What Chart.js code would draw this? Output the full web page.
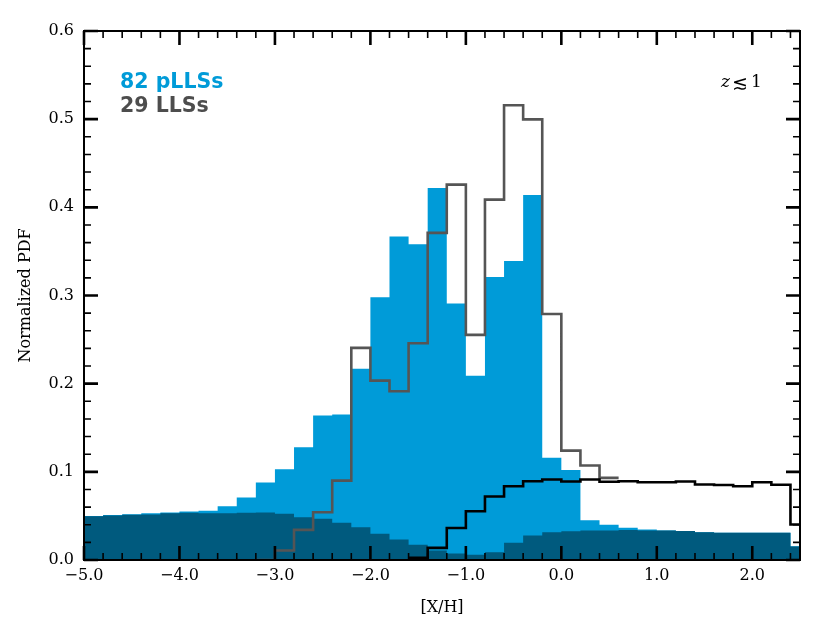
<!DOCTYPE html>
<html><head><meta charset="utf-8">
<script src="https://cdn.jsdelivr.net/npm/chart.js@4"></script>
<style>html,body{margin:0;padding:0;background:#fff}#wrap{width:830px;height:623px}</style>
</head><body><div id="wrap"><canvas id="c" width="830" height="623"></canvas></div>
<script>
// ---- data ----
const binWidth = 0.2;
const binLeftEdges = [-5.0,-4.8,-4.6,-4.4,-4.2,-4.0,-3.8,-3.6,-3.4,-3.2,-3.0,-2.8,-2.6,-2.4,-2.2,-2.0,-1.8,-1.6,-1.4,-1.2,-1.0,-0.8,-0.6,-0.4,-0.2,0.0,0.2,0.4,0.6,0.8,1.0,1.2,1.4,1.6,1.8,2.0,2.2,2.4];
// light blue filled histogram (82 pLLSs)
const pllsValues = [0.050,0.051,0.052,0.053,0.054,0.055,0.056,0.061,0.071,0.088,0.103,0.128,0.164,0.165,0.217,0.298,0.367,0.358,0.422,0.291,0.209,0.321,0.339,0.414,0.116,0.102,0.045,0.040,0.0365,0.0346,0.0335,0.0328,0.0316,0.031,0.031,0.031,0.031,0.0155];
// dark filled histogram
const darkValues = [0.0497,0.0505,0.0512,0.0516,0.053,0.0535,0.053,0.053,0.0535,0.054,0.0524,0.0485,0.0467,0.0422,0.0372,0.0297,0.0232,0.0172,0.0108,0.0075,0.006,0.0089,0.0195,0.0278,0.0315,0.0327,0.0334,0.0334,0.034,0.0334,0.0334,0.033,0.0315,0.0308,0.0308,0.0308,0.0308,0.0153];
// grey step histogram (29 LLSs), bins from -3.2 to 0.4
const llsEdges = [-3.2,-3.0,-2.8,-2.6,-2.4,-2.2,-2.0,-1.8,-1.6,-1.4,-1.2,-1.0,-0.8,-0.6,-0.4,-0.2,0.0,0.2,0.4];
const llsValues = [0.0,0.0108,0.0342,0.0542,0.090,0.2406,0.2035,0.1914,0.2458,0.371,0.4257,0.2553,0.4087,0.5157,0.4998,0.2791,0.1241,0.1071,0.0932];
// black step histogram, bins from -1.6 to 2.4
const blackEdges = [-1.6,-1.4,-1.2,-1.0,-0.8,-0.6,-0.4,-0.2,0.0,0.2,0.4,0.6,0.8,1.0,1.2,1.4,1.6,1.8,2.0,2.2,2.4];
const blackValues = [0.0025,0.0138,0.0363,0.0553,0.072,0.0837,0.0893,0.0913,0.089,0.0913,0.0888,0.0893,0.0882,0.0882,0.089,0.0856,0.085,0.0837,0.0882,0.0853,0.0403];
// ticks
const xTickValues = [-5,-4,-3,-2,-1,0,1,2];
const yTickValues = [0,0.1,0.2,0.3,0.4,0.5,0.6];

const BLUE = '#009bd8', DARK = '#005a7e', GREY = '#555555';

function stepPoints(edges, values, close){
  const pts = edges.map((e,i)=>({x:e, y:values[i]}));
  const lastX = edges[edges.length-1] + binWidth;
  pts.push({x:lastX, y:values[values.length-1]});
  if (close) pts.push({x:lastX, y:0});
  return pts;
}

const frameTicks = {
  id:'frameTicks',
  afterDraw(chart){
    const {ctx, chartArea:a, scales:{x,y}} = chart;
    ctx.save();
    ctx.strokeStyle = '#000';
    for (let k=-25;k<=12;k++){
      const v = k*0.2, major = (k%5===0);
      const px = x.getPixelForValue(v);
      if (px < a.left-0.5 || px > a.right+0.5) continue;
      const L = major?14:7;
      ctx.lineWidth = major?2.6:1.6;
      ctx.beginPath();
      ctx.moveTo(px,a.bottom); ctx.lineTo(px,a.bottom-L);
      ctx.moveTo(px,a.top); ctx.lineTo(px,a.top+L);
      ctx.stroke();
    }
    for (let k=0;k<=30;k++){
      const v = k*0.02, major = (k%5===0);
      const py = y.getPixelForValue(v);
      const L = major?14:7;
      ctx.lineWidth = major?2.6:1.6;
      ctx.beginPath();
      ctx.moveTo(a.left,py); ctx.lineTo(a.left+L,py);
      ctx.moveTo(a.right,py); ctx.lineTo(a.right-L,py);
      ctx.stroke();
    }
    ctx.lineWidth = 2;
    ctx.strokeRect(a.left,a.top,a.right-a.left,a.bottom-a.top);
    // annotations
    ctx.textBaseline = 'alphabetic';
    ctx.textAlign = 'left';
    ctx.font = 'bold 20.5px "DejaVu Sans"';
    ctx.fillStyle = BLUE;
    ctx.fillText('82 pLLSs', 120, 88);
    ctx.fillStyle = '#4d4d4d';
    ctx.fillText('29 LLSs', 120, 112);
    ctx.fillStyle = '#000';
    ctx.font = 'italic 17px "DejaVu Serif"';
    ctx.fillText('z', 721, 87);
    ctx.font = '19px "DejaVu Sans"';
    ctx.fillText('\u2272', 732, 89);
    ctx.font = '17px "DejaVu Serif"';
    ctx.fillText('1', 751, 87);
    ctx.restore();
  }
};

const fmt = v => (v<0?'\u2212':'') + Math.abs(v).toFixed(1);
const tickFont = {family:'"DejaVu Serif"', size:16};

new Chart(document.getElementById('c'), {
  type:'line',
  data:{datasets:[
    {label:'prior', data:stepPoints(blackEdges, blackValues, true), borderColor:'#000', borderWidth:2.6, stepped:'before', pointRadius:0, fill:false, order:0, clip:0},
    {label:'29 LLSs', data:stepPoints(llsEdges, llsValues, false), borderColor:GREY, borderWidth:2.6, stepped:'before', pointRadius:0, fill:false, order:1, clip:0},
    {label:'dark', data:stepPoints(binLeftEdges, darkValues, true), borderColor:'rgba(0,0,0,0)', borderWidth:0, backgroundColor:DARK, stepped:'before', pointRadius:0, fill:'origin', order:2, clip:0},
    {label:'82 pLLSs', data:stepPoints(binLeftEdges, pllsValues, true), borderColor:'rgba(0,0,0,0)', borderWidth:0, backgroundColor:BLUE, stepped:'before', pointRadius:0, fill:'origin', order:3, clip:0}
  ]},
  options:{
    responsive:false, animation:false,
    layout:{padding:{left:0,top:31,right:30,bottom:0}},
    plugins:{legend:{display:false}, tooltip:{enabled:false}},
    scales:{
      x:{type:'linear', min:-5, max:2.5,
         grid:{display:false, drawTicks:false}, border:{display:false},
         afterBuildTicks:s=>{s.ticks = xTickValues.map(v=>({value:v}));},
         afterFit:s=>{s.height = 63;},
         ticks:{font:tickFont, color:'#000', padding:6, maxRotation:0, callback:v=>fmt(v)},
         title:{display:true, text:'[X/H]', font:{family:'"DejaVu Serif"', size:16}, color:'#000', padding:{top:2,bottom:6}}},
      y:{min:0, max:0.6,
         grid:{display:false, drawTicks:false}, border:{display:false},
         afterBuildTicks:s=>{s.ticks = yTickValues.map(v=>({value:v}));},
         afterFit:s=>{s.width = 84;},
         ticks:{font:tickFont, color:'#000', padding:10, callback:v=>v.toFixed(1)},
         title:{display:true, text:'Normalized PDF', font:{family:'"DejaVu Serif"', size:16}, color:'#000', padding:{top:16,bottom:0}}}
    }
  },
  plugins:[frameTicks]
});
</script></body></html>
